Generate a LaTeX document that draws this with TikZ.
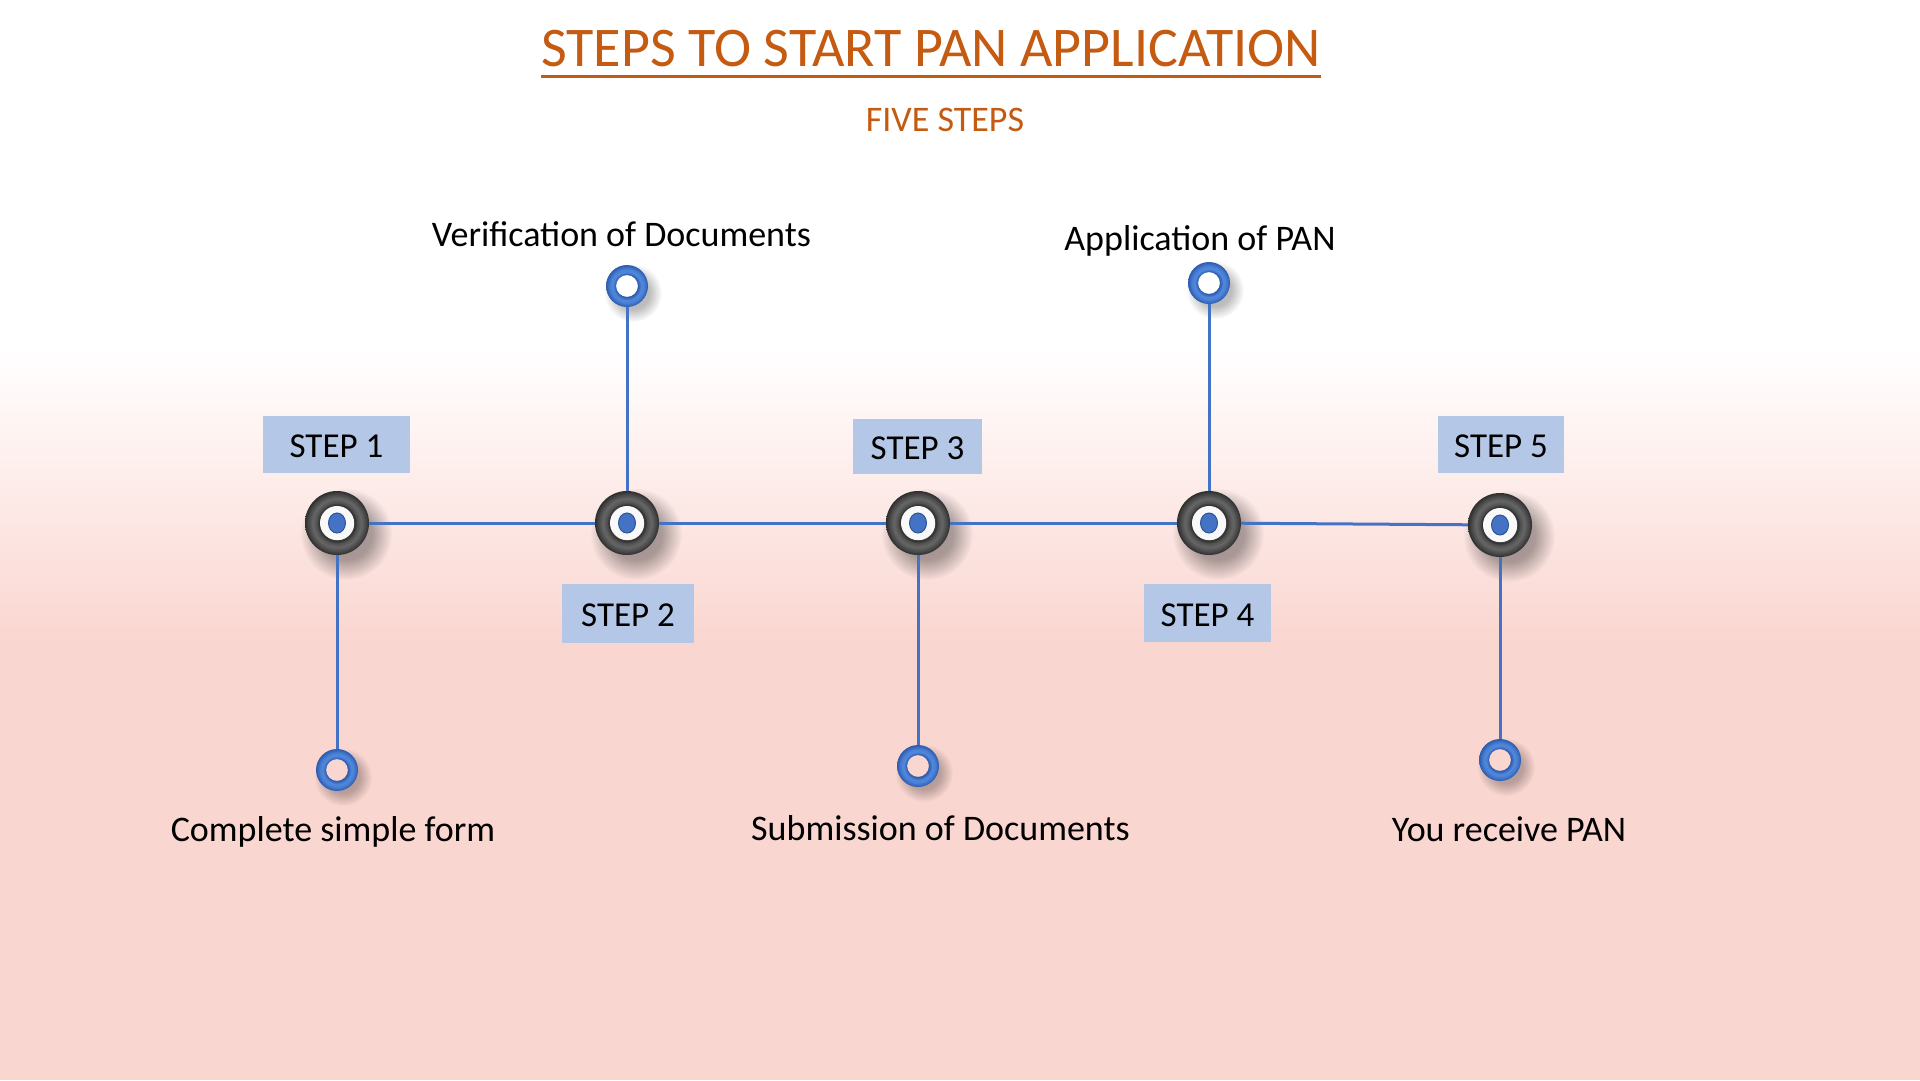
\documentclass[tikz,border=0pt]{standalone}
\usepackage{fontspec}
\setmainfont{Carlito}
\usetikzlibrary{calc,fadings}

\definecolor{titleorange}{HTML}{C55A11}
\definecolor{linkblue}{HTML}{4472C4}
\definecolor{dotedge}{HTML}{2F5597}
\definecolor{tagblue}{HTML}{B4C7E7}
\definecolor{bgpink}{HTML}{FAD6D0}
\definecolor{ringdark}{HTML}{2C5AAE}
\definecolor{ringlight}{HTML}{5088DC}

% dark torus for the step hubs (25bp = outer edge)
\pgfdeclareradialshading{darktorus}{\pgfpointorigin}{%
  color(0bp)=(white); color(13bp)=(white);
  color(13.4bp)=(black!85); color(16bp)=(black!68); color(19bp)=(black!60);
  color(22.5bp)=(black!72); color(25bp)=(black!82); color(50bp)=(black!82)}
% blue torus for the end rings
\pgfdeclareradialshading{bluetorus}{\pgfpointorigin}{%
  color(0bp)=(ringdark); color(13bp)=(ringdark);
  color(17bp)=(ringlight); color(20bp)=(ringlight!85!ringdark);
  color(25bp)=(ringdark); color(50bp)=(ringdark)}
% soft drop shadow
\pgfdeclareradialshading{shadowshade}{\pgfpointorigin}{%
  color(0bp)=(pgftransparent!0); color(14bp)=(pgftransparent!15);
  color(25bp)=(pgftransparent!100); color(50bp)=(pgftransparent!100)}
\pgfdeclarefading{softshadow}{\pgfuseshading{shadowshade}}

\tikzset{
  hub/.style={circle, minimum size=64pt, inner sep=0pt, shade, shading=darktorus},
  endring/.style={circle, minimum size=42pt, inner sep=0pt},
  link/.style={draw=linkblue, line width=3pt},
  tag/.style={fill=tagblue, inner sep=0pt, text depth=0pt, text height=26pt,
    minimum height=57pt, font=\fontsize{35}{40}\selectfont},
  lbl/.style={inner sep=0pt, anchor=base, font=\fontsize{36}{40}\selectfont},
}

\begin{document}
\begin{tikzpicture}[x=1pt, y=-1pt]
  \useasboundingbox (0,0) rectangle (1920,1080);

  % page background: white fading into pink
  \fill[white] (0,0) rectangle (1920,352);
  \shade[top color=white, bottom color=bgpink] (0,350) rectangle (1920,642);
  \fill[bgpink] (0,640) rectangle (1920,1080);

  % heading
  \node[inner sep=0pt, anchor=base, text=titleorange, font=\fontsize{56}{62}\selectfont]
    (title) at (931,66) {STEPS TO START PAN APPLICATION};
  \draw[titleorange, line width=3pt]
    ($(title.base west)+(0,10)$) -- ($(title.base east)+(0,10)$);
  \node[inner sep=0pt, anchor=base, text=titleorange, font=\fontsize{36}{40}\selectfont]
    (sub) at (945,131) {FIVE STEPS};

  % shadows
  \foreach \x/\y in {337/523, 627/523, 918/523, 1209/523, 1500/525}
    \fill[black, opacity=0.38, path fading=softshadow] (\x+9,\y+11) circle (46);
  \foreach \x/\y in {337/770, 627/286, 918/766, 1209/283, 1500/760}
    \fill[black, opacity=0.30, path fading=softshadow, even odd rule]
      (\x+6,\y+7) circle (29) (\x,\y) circle (11);

  % hubs and end rings
  \node[hub] (s1) at (337,523) {};
  \node[hub] (s2) at (627,523) {};
  \node[hub] (s3) at (918,523) {};
  \node[hub] (s4) at (1209,523) {};
  \node[hub] (s5) at (1500,525) {};
  \node[endring] (r1) at (337,770) {};
  \node[endring] (r2) at (627,286) {};
  \node[endring] (r3) at (918,766) {};
  \node[endring] (r4) at (1209,283) {};
  \node[endring] (r5) at (1500,760) {};

  \foreach \n in {s1,s2,s3,s4,s5}{
    \fill[white!95!gray] (\n) circle (17);
    \filldraw[fill=linkblue, draw=dotedge, line width=1pt] (\n) ellipse (8.5 and 10);
  }
  \foreach \n in {r1,r2,r3,r4,r5}
    \path[shade, shading=bluetorus, even odd rule] (\n) circle (21) (\n) circle (11);

  % connectors
  \draw[link] (s1) -- (s2);
  \draw[link] (s2) -- (s3);
  \draw[link] (s3) -- (s4);
  \draw[link] (s4) -- (s5);
  \draw[link] (s1) -- (r1);
  \draw[link] (s2) -- (r2);
  \draw[link] (s3) -- (r3);
  \draw[link] (s4) -- (r4);
  \draw[link] (s5) -- (r5);

  % step tags
  \node[tag, minimum width=147pt] (t1) at (336.5,444.5) {STEP 1};
  \node[tag, minimum width=132pt, minimum height=59pt] (t2) at (628,613.5) {STEP 2};
  \node[tag, minimum width=129pt, minimum height=55pt] (t3) at (917.5,446.5) {STEP 3};
  \node[tag, minimum width=127pt, minimum height=58pt] (t4) at (1207.5,613) {STEP 4};
  \node[tag, minimum width=126pt] (t5) at (1501,444.5) {STEP 5};

  % step descriptions
  \node[lbl] (d1) at (333,841) {Complete simple form};
  \node[lbl] (d2) at (621.5,246) {Verification of Documents};
  \node[lbl] (d3) at (940.5,840) {Submission of Documents};
  \node[lbl] (d4) at (1200,250) {Application of PAN};
  \node[lbl] (d5) at (1509,841) {You receive PAN};
\end{tikzpicture}
\end{document}
